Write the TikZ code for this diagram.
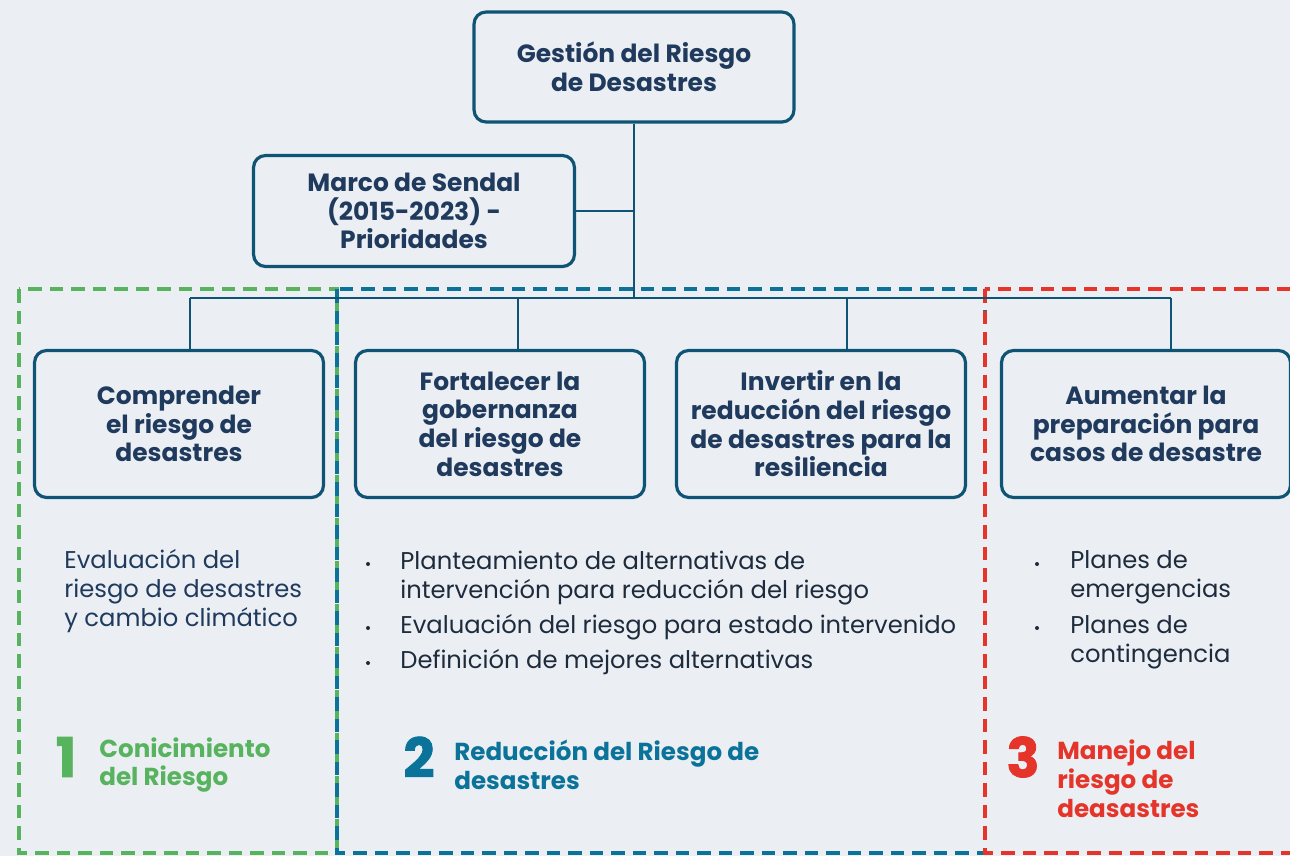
\documentclass[tikz,border=0pt]{standalone}
\usepackage{fontspec}
\setmainfont{Poppins}
\usetikzlibrary{positioning}
\definecolor{bgc}{HTML}{EBEFF4}
\definecolor{navy}{HTML}{1F3A5C}
\definecolor{ink}{HTML}{1D2B3C}
\definecolor{edge}{HTML}{0F5474}
\definecolor{grn}{HTML}{57B35D}
\definecolor{blu}{HTML}{0B7399}
\definecolor{rd}{HTML}{E5352A}

\begin{document}
\begin{tikzpicture}[x=0.02cm,y=-0.02cm,
  box/.style={draw=edge, line width=1.8pt, rounded corners=0.24cm, align=center,
    text=navy, inner sep=0pt, font=\bfseries\fontsize{14.2}{16.3}\selectfont},
  lvl/.style={box, minimum width=5.78cm, minimum height=2.94cm},
  link/.style={edge, line width=1.4pt},
  zone/.style={line width=2pt, dash pattern=on 0.27cm off 0.16cm},
  body/.style={anchor=base west, align=left, inner sep=0pt, text=ink,
    font=\fontsize{13.8}{16.4}\selectfont},
  dot/.style={circle, fill=ink, inner sep=0pt, minimum size=0.08cm},
  tag/.style={anchor=west, align=left, inner sep=0pt,
    font=\bfseries\fontsize{14}{16.4}\selectfont},
  num/.style={inner sep=0pt, font=\bfseries\fontsize{31}{31}\selectfont\addfontfeature{FakeBold=1.5}}]
\useasboundingbox (0,0) rectangle (1290,856);
\fill[bgc] (0,0) rectangle (1290,856);

% zonas
\draw[zone, grn] (19,289) rectangle (337,853);
\draw[zone, blu] (337,289) rectangle (985,853);
\draw[zone, rd] (985,289) rectangle (1294,853);

\node[box, minimum width=6.4cm, minimum height=2.2cm] (grd) at (634,67) {Gestión del Riesgo\\de Desastres};
\node[box, minimum width=6.42cm, minimum height=2.22cm] (sendai) at (414,211) {Marco de Sendal\\(2015-2023) -\\Prioridades};

\node[lvl] (p1) at (179,424) {Comprender\\el riesgo de\\desastres};
\node[lvl] (p2) at (500,424) {Fortalecer la\\gobernanza\\del riesgo de\\desastres};
\node[lvl] (p3) at (821,424) {Invertir en la\\reducción del riesgo\\de desastres para la\\resiliencia};
\node[lvl] (p4) at (1146,424) {Aumentar la\\preparación para\\casos de desastre};

\coordinate (bus) at (634,298);
\coordinate (d1) at (190,298);
\coordinate (d2) at (518,298);
\coordinate (d3) at (847,298);
\coordinate (d4) at (1171,298);
\draw[link] (grd.south) -- (bus);
\draw[link] (sendai.east) -- (sendai.east -| grd.south);
\draw[link] (d1) -- (d4);
\foreach \i in {1,...,4}
  \draw[link] (d\i) -- (d\i |- p\i.north);

% textos
\node[body, text=navy] (eval) at (64,626) {Evaluación del\\riesgo de desastres\\y cambio climático};

\node[body] (a1) at (400,598) {Planteamiento de alternativas de\\intervención para reducción del riesgo};
\node[body] (a2) at (400,633) {Evaluación del riesgo para estado intervenido};
\node[body] (a3) at (400,668) {Definición de mejores alternativas};
\node[body] (c1) at (1070,597) {Planes de\\emergencias};
\node[body] (c2) at (1070,662) {Planes de\\contingencia};
\foreach \n/\x/\y in {u1/368/564, u2/368/628, u3/368/663, u4/1037/564, u5/1037/628}
  \node[dot] (\n) at (\x,\y) {};

\node[num, grn] (n1) at (66,757) {1};
\node[tag, grn] (t1) at (99,765) {Conicimiento\\del Riesgo};
\node[num, blu] (n2) at (419,757) {2};
\node[tag, blu] (t2) at (454,765) {Reducción del Riesgo de\\desastres};
\node[num, rd] (n3) at (1023,757) {3};
\node[tag, rd] (t3) at (1057,779) {Manejo del\\riesgo de\\deasastres};
\end{tikzpicture}
\end{document}
